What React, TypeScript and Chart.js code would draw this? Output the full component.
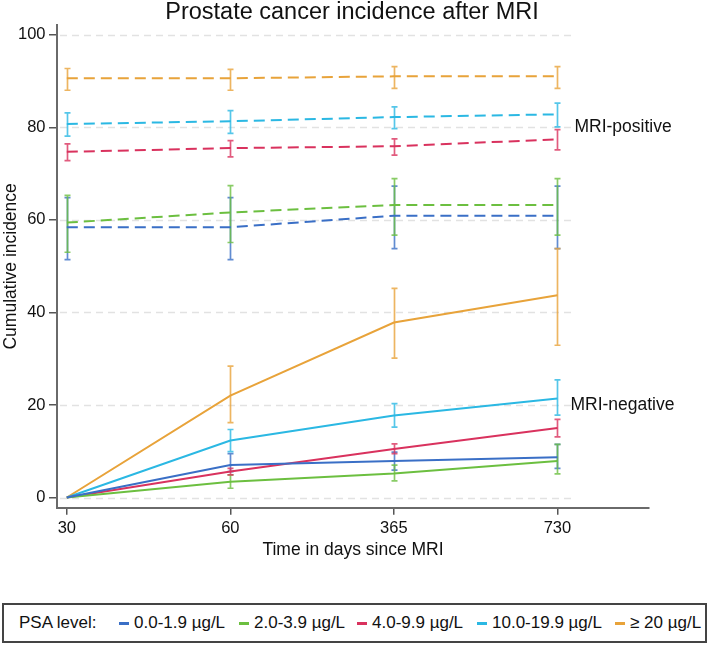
import React, { useEffect, useRef } from "react";
import { Chart, registerables } from "chart.js";

Chart.register(...registerables);

const FONT = '"Liberation Sans", Arial, Helvetica, sans-serif';

// ---- data ----
const timeLabels = ["30", "60", "365", "730"];
const yTicks = [0, 20, 40, 60, 80, 100];
const groupLabels = ["0.0-1.9 µg/L", "2.0-3.9 µg/L", "4.0-9.9 µg/L", "10.0-19.9 µg/L", "≥ 20 µg/L"];
const groupColors = ["#3a6fc6", "#6cbf40", "#d9325e", "#2bb8e3", "#e8a33a"];

// MRI-positive (dashed)
const posMean0 = [58.4, 58.4, 60.9, 60.9];
const posLo0 = [51.4, 51.4, 53.8, 53.8];
const posHi0 = [64.8, 64.8, 67.3, 67.3];
const posMean1 = [59.4, 61.6, 63.2, 63.2];
const posLo1 = [53.0, 55.1, 56.7, 56.7];
const posHi1 = [65.3, 67.4, 68.9, 68.9];
const posMean2 = [74.7, 75.5, 75.9, 77.4];
const posLo2 = [72.8, 73.6, 74.0, 75.1];
const posHi2 = [76.4, 77.1, 77.5, 79.5];
const posMean3 = [80.7, 81.3, 82.2, 82.8];
const posLo3 = [78.1, 78.7, 79.7, 80.1];
const posHi3 = [83.1, 83.6, 84.4, 85.2];
const posMean4 = [90.6, 90.6, 91.0, 91.0];
const posLo4 = [88.0, 88.0, 88.4, 88.4];
const posHi4 = [92.7, 92.5, 93.1, 93.1];

// MRI-negative (solid)
const negMean0 = [0, 7.0, 7.9, 8.7];
const negLo0 = [null, 5.6, 5.9, 6.3];
const negHi0 = [null, 9.5, 9.8, 11.5];
const negMean1 = [0, 3.4, 5.2, 7.9];
const negLo1 = [null, 2.0, 3.6, 5.1];
const negHi1 = [null, 4.9, 7.0, 11.5];
const negMean2 = [0, 5.6, 10.5, 15.0];
const negLo2 = [null, 4.9, 9.5, 13.1];
const negHi2 = [null, 6.3, 11.6, 16.9];
const negMean3 = [0, 12.3, 17.7, 21.4];
const negLo3 = [null, 9.9, 15.2, 17.8];
const negHi3 = [null, 14.7, 20.3, 25.4];
const negMean4 = [0, 22.0, 37.8, 43.7];
const negLo4 = [null, 16.2, 30.1, 32.9];
const negHi4 = [null, 28.4, 45.2, 53.8];

const posMeans = [posMean0, posMean1, posMean2, posMean3, posMean4];
const posLos = [posLo0, posLo1, posLo2, posLo3, posLo4];
const posHis = [posHi0, posHi1, posHi2, posHi3, posHi4];
const negMeans = [negMean0, negMean1, negMean2, negMean3, negMean4];
const negLos = [negLo0, negLo1, negLo2, negLo3, negLo4];
const negHis = [negHi0, negHi1, negHi2, negHi3, negHi4];

function hexA(hex: string, a: number) {
  const n = parseInt(hex.slice(1), 16);
  return `rgba(${(n >> 16) & 255},${(n >> 8) & 255},${n & 255},${a})`;
}

const overlayPlugin = {
  id: "overlay",
  beforeDatasetsDraw(chart: any) {
    const { ctx } = chart;
    const xs = chart.scales.x;
    const ys = chart.scales.y;
    // dashed gridlines
    ctx.save();
    ctx.strokeStyle = "#e2e2e2";
    ctx.lineWidth = 1.5;
    ctx.setLineDash([7, 5]);
    const x0 = xs.left + 3;
    const x1 = xs.getPixelForValue(3.1);
    for (const v of yTicks) {
      const py = Math.round(ys.getPixelForValue(v)) + 0.5;
      ctx.beginPath();
      ctx.moveTo(x0, py);
      ctx.lineTo(x1, py);
      ctx.stroke();
    }
    ctx.restore();

    // error bars
    ctx.save();
    ctx.lineWidth = 1.7;
    const drawBars = (los: (number | null)[][], his: (number | null)[][]) => {
      los.forEach((lo, g) => {
        ctx.strokeStyle = hexA(groupColors[g], 0.8);
        lo.forEach((l, i) => {
          const h = his[g][i];
          if (l == null || h == null) return;
          const px = Math.round(xs.getPixelForValue(i)) + 0.5;
          const pl = ys.getPixelForValue(l);
          const ph = ys.getPixelForValue(h);
          ctx.beginPath();
          ctx.moveTo(px, pl);
          ctx.lineTo(px, ph);
          ctx.moveTo(px - 3, pl);
          ctx.lineTo(px + 3, pl);
          ctx.moveTo(px - 3, ph);
          ctx.lineTo(px + 3, ph);
          ctx.stroke();
        });
      });
    };
    drawBars(posLos, posHis);
    drawBars(negLos, negHis);
    ctx.restore();
  },
  afterDraw(chart: any) {
    const { ctx } = chart;
    const xs = chart.scales.x;
    const ys = chart.scales.y;
    ctx.save();
    ctx.fillStyle = "#111";
    ctx.font = `23.5px ${FONT}`;
    ctx.textAlign = "center";
    ctx.textBaseline = "alphabetic";
    ctx.fillText("Prostate cancer incidence after MRI", 352, 18.5);

    ctx.font = `17.5px ${FONT}`;
    ctx.textAlign = "left";
    ctx.textBaseline = "middle";
    ctx.fillText("MRI-positive", xs.getPixelForValue(3) + 17, ys.getPixelForValue(80));
    ctx.fillText("MRI-negative", xs.getPixelForValue(3) + 13, ys.getPixelForValue(20));
    ctx.restore();
  },
};

export default function App() {
  const ref = useRef<HTMLCanvasElement | null>(null);

  useEffect(() => {
    if (!ref.current) return;
    const datasets: any[] = [];
    negMeans.forEach((m, g) => {
      datasets.push({
        label: groupLabels[g] + " (MRI-negative)",
        data: m.map((v, i) => ({ x: i, y: v })),
        borderColor: groupColors[g],
        backgroundColor: groupColors[g],
        borderWidth: 2,
        pointRadius: 0,
        tension: 0,
        fill: false,
      });
    });
    posMeans.forEach((m, g) => {
      datasets.push({
        label: groupLabels[g] + " (MRI-positive)",
        data: m.map((v, i) => ({ x: i, y: v })),
        borderColor: groupColors[g],
        backgroundColor: groupColors[g],
        borderWidth: 2,
        borderDash: [11, 6],
        pointRadius: 0,
        tension: 0,
        fill: false,
      });
    });

    const chart = new Chart(ref.current, {
      type: "line",
      data: { datasets },
      options: {
        animation: false,
        responsive: false,
        devicePixelRatio: 1,
        layout: { padding: { left: 0, top: 25, right: 61, bottom: 77.3 } },
        plugins: {
          legend: { display: false },
          tooltip: { enabled: false },
          title: { display: false },
        },
        scales: {
          x: {
            type: "linear",
            min: -0.06,
            max: 3.56,
            afterBuildTicks: (s: any) => {
              s.ticks = timeLabels.map((_, i) => ({ value: i }));
            },
            afterFit: (s: any) => {
              s.height = 60;
            },
            ticks: {
              autoSkip: false,
              maxRotation: 0,
              padding: 3.4,
              color: "#111",
              font: { size: 16.5, family: FONT },
              callback: (v: any) => timeLabels[v as number] ?? "",
            },
            grid: { drawOnChartArea: false, tickLength: 7, color: "#555", lineWidth: 1.5 },
            border: { display: true, color: "#6a6a6a", width: 2 },
            title: {
              display: true,
              text: "Time in days since MRI",
              color: "#111",
              font: { size: 17.5, family: FONT },
              padding: { top: 0, bottom: 7.2 },
            },
          },
          y: {
            type: "linear",
            min: -2.2,
            max: 102.1,
            afterBuildTicks: (s: any) => {
              s.ticks = yTicks.map((v) => ({ value: v }));
            },
            afterFit: (s: any) => {
              s.width = 57;
            },
            ticks: {
              padding: 3.5,
              color: "#111",
              font: { size: 16.5, family: FONT },
            },
            grid: { drawOnChartArea: false, tickLength: 8, color: "#555", lineWidth: 1.5 },
            border: { display: true, color: "#6a6a6a", width: 2 },
            title: {
              display: true,
              text: "Cumulative incidence",
              color: "#111",
              font: { size: 17.5, family: FONT },
              padding: { top: 0.5, bottom: 0 },
            },
          },
        },
      },
      plugins: [overlayPlugin],
    });
    return () => chart.destroy();
  }, []);

  const legendX = [119, 239, 357, 477, 615];

  return (
    <div style={{ position: "absolute", left: 0, top: 0, width: 710, height: 645, background: "#fff" }}>
      <canvas ref={ref} width={710} height={645} style={{ display: "block" }} />
      <div
        style={{
          position: "absolute",
          left: 2,
          top: 603,
          width: 705,
          height: 40,
          boxSizing: "border-box",
          border: "2px solid #444",
          background: "#fff",
          fontFamily: FONT,
          fontSize: 17,
          color: "#111",
          lineHeight: "36px",
          whiteSpace: "nowrap",
        }}
      >
        <span style={{ position: "absolute", left: 15, top: 0 }}>PSA level:</span>
        {groupLabels.map((g, i) => (
          <span key={g} style={{ position: "absolute", left: legendX[i] - 4, top: 0 }}>
            <span
              style={{
                display: "inline-block",
                width: 10,
                height: 2.5,
                background: groupColors[i],
                verticalAlign: "middle",
                marginRight: 5,
              }}
            />
            {g}
          </span>
        ))}
      </div>
    </div>
  );
}
